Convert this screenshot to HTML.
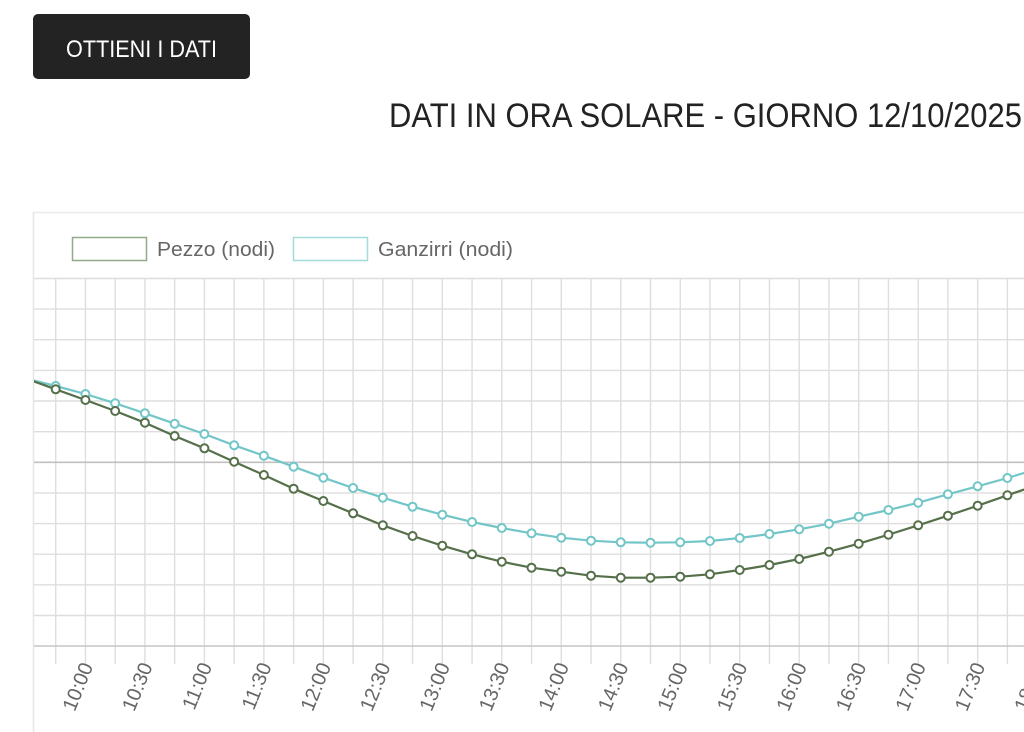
<!DOCTYPE html>
<html>
<head>
<meta charset="utf-8">
<style>
  html,body{margin:0;padding:0;background:#fff;width:1024px;height:732px;overflow:hidden;}
  svg{display:block;}
  .lbl{font-family:"Liberation Sans",Arial,sans-serif;font-size:20px;fill:#666;}
</style>
</head>
<body>
<svg width="1024" height="732" viewBox="0 0 1024 732" xmlns="http://www.w3.org/2000/svg">
  <defs>
    <clipPath id="ca"><rect x="34" y="270" width="990" height="400"/></clipPath>
  </defs>

  <!-- Button -->
  <rect x="33" y="14" width="217" height="65" rx="5" ry="5" fill="#232323"/>
  <text x="66" y="57" font-family="Liberation Sans, Arial, sans-serif" font-size="24" fill="#fff" textLength="151" lengthAdjust="spacingAndGlyphs">OTTIENI I DATI</text>

  <!-- Title -->
  <text x="389" y="127" font-family="Liberation Sans, Arial, sans-serif" font-size="34" fill="#222" textLength="633" lengthAdjust="spacingAndGlyphs">DATI IN ORA SOLARE - GIORNO 12/10/2025</text>

  <!-- Container border -->
  <line x1="33" y1="212.5" x2="1024" y2="212.5" stroke="#ebebeb" stroke-width="1.5"/>
  <line x1="33.5" y1="212" x2="33.5" y2="732" stroke="#e6e6e6" stroke-width="1.5"/>

  <!-- Legend -->
  <rect x="72.5" y="237.5" width="74" height="23" fill="#fff" stroke="#93aa8a" stroke-width="1.5"/>
  <text x="157" y="256" font-family="Liberation Sans, Arial, sans-serif" font-size="20" fill="#666" textLength="118" lengthAdjust="spacingAndGlyphs">Pezzo (nodi)</text>
  <rect x="293.5" y="237.5" width="74" height="23" fill="#fff" stroke="#a4dcdd" stroke-width="1.5"/>
  <text x="378" y="256" font-family="Liberation Sans, Arial, sans-serif" font-size="20" fill="#666" textLength="135" lengthAdjust="spacingAndGlyphs">Ganzirri (nodi)</text>

  <!-- Horizontal grid -->
  <g stroke="#dedede" stroke-width="1.4">
    <line x1="34" y1="278.5" x2="1024" y2="278.5"/>
    <line x1="34" y1="309.1" x2="1024" y2="309.1"/>
    <line x1="34" y1="339.7" x2="1024" y2="339.7"/>
    <line x1="34" y1="370.4" x2="1024" y2="370.4"/>
    <line x1="34" y1="401" x2="1024" y2="401"/>
    <line x1="34" y1="431.7" x2="1024" y2="431.7"/>
    <line x1="34" y1="492.9" x2="1024" y2="492.9"/>
    <line x1="34" y1="523.6" x2="1024" y2="523.6"/>
    <line x1="34" y1="554.2" x2="1024" y2="554.2"/>
    <line x1="34" y1="584.8" x2="1024" y2="584.8"/>
    <line x1="34" y1="615.5" x2="1024" y2="615.5"/>
  </g>
  <!-- Vertical grid -->
  <g stroke="#dedede" stroke-width="1.4">
    <line x1="55.70" y1="278.5" x2="55.70" y2="664"/>
    <line x1="85.44" y1="278.5" x2="85.44" y2="664"/>
    <line x1="115.18" y1="278.5" x2="115.18" y2="664"/>
    <line x1="144.92" y1="278.5" x2="144.92" y2="664"/>
    <line x1="174.66" y1="278.5" x2="174.66" y2="664"/>
    <line x1="204.40" y1="278.5" x2="204.40" y2="664"/>
    <line x1="234.14" y1="278.5" x2="234.14" y2="664"/>
    <line x1="263.88" y1="278.5" x2="263.88" y2="664"/>
    <line x1="293.62" y1="278.5" x2="293.62" y2="664"/>
    <line x1="323.36" y1="278.5" x2="323.36" y2="664"/>
    <line x1="353.10" y1="278.5" x2="353.10" y2="664"/>
    <line x1="382.84" y1="278.5" x2="382.84" y2="664"/>
    <line x1="412.58" y1="278.5" x2="412.58" y2="664"/>
    <line x1="442.32" y1="278.5" x2="442.32" y2="664"/>
    <line x1="472.06" y1="278.5" x2="472.06" y2="664"/>
    <line x1="501.80" y1="278.5" x2="501.80" y2="664"/>
    <line x1="531.54" y1="278.5" x2="531.54" y2="664"/>
    <line x1="561.28" y1="278.5" x2="561.28" y2="664"/>
    <line x1="591.02" y1="278.5" x2="591.02" y2="664"/>
    <line x1="620.76" y1="278.5" x2="620.76" y2="664"/>
    <line x1="650.50" y1="278.5" x2="650.50" y2="664"/>
    <line x1="680.24" y1="278.5" x2="680.24" y2="664"/>
    <line x1="709.98" y1="278.5" x2="709.98" y2="664"/>
    <line x1="739.72" y1="278.5" x2="739.72" y2="664"/>
    <line x1="769.46" y1="278.5" x2="769.46" y2="664"/>
    <line x1="799.20" y1="278.5" x2="799.20" y2="664"/>
    <line x1="828.94" y1="278.5" x2="828.94" y2="664"/>
    <line x1="858.68" y1="278.5" x2="858.68" y2="664"/>
    <line x1="888.42" y1="278.5" x2="888.42" y2="664"/>
    <line x1="918.16" y1="278.5" x2="918.16" y2="664"/>
    <line x1="947.90" y1="278.5" x2="947.90" y2="664"/>
    <line x1="977.64" y1="278.5" x2="977.64" y2="664"/>
    <line x1="1007.38" y1="278.5" x2="1007.38" y2="664"/>
  </g>
  <!-- Zero line & axis -->
  <line x1="34" y1="462.3" x2="1024" y2="462.3" stroke="#c0c0c0" stroke-width="1.6"/>
  <line x1="34" y1="646" x2="1024" y2="646" stroke="#c6c6c6" stroke-width="1.6"/>

  <!-- Series -->
  <g clip-path="url(#ca)" fill="none" stroke-width="2.2" stroke-linejoin="round">
    <polyline stroke="#72c6c8" points="25.96,378.5 55.70,386 85.44,394 115.18,403.3 144.92,413.3 174.66,423.7 204.40,434 234.14,445.3 263.88,455.7 293.62,466.7 323.36,477.7 353.10,488 382.84,497.7 412.58,506.7 442.32,514.7 472.06,522 501.80,528 531.54,533.3 561.28,537.7 591.02,540.7 620.76,542.3 650.50,542.7 680.24,542.3 709.98,541 739.72,538 769.46,534 799.20,529.3 828.94,523.7 858.68,516.7 888.42,510 918.16,502.7 947.90,494.3 977.64,486.3 1007.38,478 1037.12,469"/>
    <g fill="#fff" stroke="#72c6c8" stroke-width="2">
      <circle cx="55.70" cy="386" r="4"/><circle cx="85.44" cy="394" r="4"/><circle cx="115.18" cy="403.3" r="4"/><circle cx="144.92" cy="413.3" r="4"/><circle cx="174.66" cy="423.7" r="4"/><circle cx="204.40" cy="434" r="4"/><circle cx="234.14" cy="445.3" r="4"/><circle cx="263.88" cy="455.7" r="4"/><circle cx="293.62" cy="466.7" r="4"/><circle cx="323.36" cy="477.7" r="4"/><circle cx="353.10" cy="488" r="4"/><circle cx="382.84" cy="497.7" r="4"/><circle cx="412.58" cy="506.7" r="4"/><circle cx="442.32" cy="514.7" r="4"/><circle cx="472.06" cy="522" r="4"/><circle cx="501.80" cy="528" r="4"/><circle cx="531.54" cy="533.3" r="4"/><circle cx="561.28" cy="537.7" r="4"/><circle cx="591.02" cy="540.7" r="4"/><circle cx="620.76" cy="542.3" r="4"/><circle cx="650.50" cy="542.7" r="4"/><circle cx="680.24" cy="542.3" r="4"/><circle cx="709.98" cy="541" r="4"/><circle cx="739.72" cy="538" r="4"/><circle cx="769.46" cy="534" r="4"/><circle cx="799.20" cy="529.3" r="4"/><circle cx="828.94" cy="523.7" r="4"/><circle cx="858.68" cy="516.7" r="4"/><circle cx="888.42" cy="510" r="4"/><circle cx="918.16" cy="502.7" r="4"/><circle cx="947.90" cy="494.3" r="4"/><circle cx="977.64" cy="486.3" r="4"/><circle cx="1007.38" cy="478" r="4"/>
    </g>
    <polyline stroke="#55704a" points="25.96,378.6 55.70,389.3 85.44,400 115.18,411 144.92,422.7 174.66,436 204.40,448.3 234.14,461.7 263.88,475 293.62,488.7 323.36,501 353.10,513.3 382.84,525.3 412.58,536 442.32,545.7 472.06,554.3 501.80,561.7 531.54,567.7 561.28,571.7 591.02,575.7 620.76,577.7 650.50,577.7 680.24,576.7 709.98,574.3 739.72,570 769.46,565 799.20,559 828.94,551.7 858.68,543.7 888.42,534.7 918.16,525.3 947.90,515.7 977.64,505.7 1007.38,495.3 1037.12,485"/>
    <g fill="#fff" stroke="#55704a" stroke-width="2">
      <circle cx="55.70" cy="389.3" r="4"/><circle cx="85.44" cy="400" r="4"/><circle cx="115.18" cy="411" r="4"/><circle cx="144.92" cy="422.7" r="4"/><circle cx="174.66" cy="436" r="4"/><circle cx="204.40" cy="448.3" r="4"/><circle cx="234.14" cy="461.7" r="4"/><circle cx="263.88" cy="475" r="4"/><circle cx="293.62" cy="488.7" r="4"/><circle cx="323.36" cy="501" r="4"/><circle cx="353.10" cy="513.3" r="4"/><circle cx="382.84" cy="525.3" r="4"/><circle cx="412.58" cy="536" r="4"/><circle cx="442.32" cy="545.7" r="4"/><circle cx="472.06" cy="554.3" r="4"/><circle cx="501.80" cy="561.7" r="4"/><circle cx="531.54" cy="567.7" r="4"/><circle cx="561.28" cy="571.7" r="4"/><circle cx="591.02" cy="575.7" r="4"/><circle cx="620.76" cy="577.7" r="4"/><circle cx="650.50" cy="577.7" r="4"/><circle cx="680.24" cy="576.7" r="4"/><circle cx="709.98" cy="574.3" r="4"/><circle cx="739.72" cy="570" r="4"/><circle cx="769.46" cy="565" r="4"/><circle cx="799.20" cy="559" r="4"/><circle cx="828.94" cy="551.7" r="4"/><circle cx="858.68" cy="543.7" r="4"/><circle cx="888.42" cy="534.7" r="4"/><circle cx="918.16" cy="525.3" r="4"/><circle cx="947.90" cy="515.7" r="4"/><circle cx="977.64" cy="505.7" r="4"/><circle cx="1007.38" cy="495.3" r="4"/>
    </g>
  </g>

  <!-- X tick labels -->
  <g class="lbl" text-anchor="end">
    <text transform="translate(93.4,666) rotate(-68)">10:00</text>
    <text transform="translate(152.9,666) rotate(-68)">10:30</text>
    <text transform="translate(212.4,666) rotate(-68)">11:00</text>
    <text transform="translate(271.9,666) rotate(-68)">11:30</text>
    <text transform="translate(331.4,666) rotate(-68)">12:00</text>
    <text transform="translate(390.8,666) rotate(-68)">12:30</text>
    <text transform="translate(450.3,666) rotate(-68)">13:00</text>
    <text transform="translate(509.8,666) rotate(-68)">13:30</text>
    <text transform="translate(569.3,666) rotate(-68)">14:00</text>
    <text transform="translate(628.8,666) rotate(-68)">14:30</text>
    <text transform="translate(688.2,666) rotate(-68)">15:00</text>
    <text transform="translate(747.7,666) rotate(-68)">15:30</text>
    <text transform="translate(807.2,666) rotate(-68)">16:00</text>
    <text transform="translate(866.7,666) rotate(-68)">16:30</text>
    <text transform="translate(926.2,666) rotate(-68)">17:00</text>
    <text transform="translate(985.6,666) rotate(-68)">17:30</text>
    <text transform="translate(1045.1,666) rotate(-68)">18:00</text>
  </g>
</svg>
</body>
</html>
